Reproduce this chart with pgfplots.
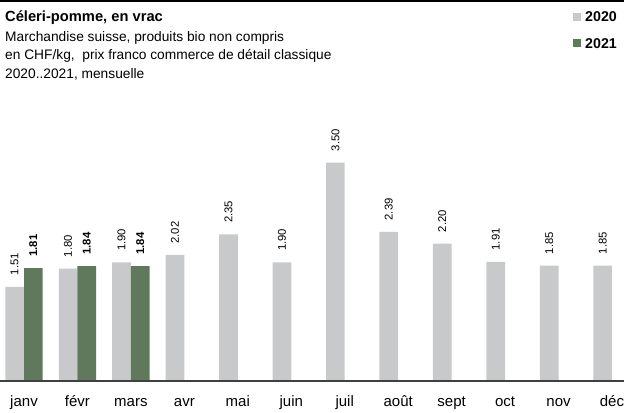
\documentclass[border=0pt]{standalone}
\usepackage{pgfplots}
\pgfplotsset{compat=1.18}
\usepackage{fontspec}
\setmainfont{Liberation Sans}
\definecolor{g20}{RGB}{200,201,203}
\definecolor{g21}{RGB}{96,121,92}
\definecolor{base}{RGB}{64,64,64}
\begin{document}
\begin{tikzpicture}[x=1bp,y=1bp]
\useasboundingbox (0,0) rectangle (624,412);
\draw[line width=1.8bp] (0,410.6) -- (624,410.6);
\node[anchor=base west, inner sep=0, font=\fontsize{14.7bp}{17bp}\selectfont\bfseries] at (5,390) {Céleri-pomme, en vrac};
\node[anchor=base west, inner sep=0, font=\fontsize{13.75bp}{16bp}\selectfont] at (5,371) {Marchandise suisse, produits bio non compris};
\node[anchor=base west, inner sep=0, font=\fontsize{13.75bp}{16bp}\selectfont] at (5,352.5) {en CHF/kg,\ \ prix franco commerce de détail classique};
\node[anchor=base west, inner sep=0, font=\fontsize{13.75bp}{16bp}\selectfont] at (5,334) {2020..2021, mensuelle};
\fill[g20] (572.7,391) rectangle (580.7,399);
\node[anchor=base west, inner sep=0, font=\fontsize{14.2bp}{16bp}\selectfont\bfseries] at (585,390) {2020};
\fill[g21] (572.7,365) rectangle (580.7,373);
\node[anchor=base west, inner sep=0, font=\fontsize{14.2bp}{16bp}\selectfont\bfseries] at (585,364) {2021};
\begin{axis}[
  at={(0bp,31bp)}, anchor=south west, scale only axis,
  width=624bp, height=249.6bp,
  xmin=-0.449, xmax=11.225, ymin=0, ymax=4,
  axis line style={draw=none},
  xtick={0,...,11}, xtick pos=lower, ytick=\empty,
  xticklabels={janv,févr,mars,avr,mai,juin,juil,août,sept,oct,nov,déc},
  major tick length=0,
  xticklabel style={font=\fontsize{15bp}{17bp}\selectfont, anchor=base, inner sep=0pt},
  xticklabel shift=0pt,
  x tick label style={yshift=-25bp},
  ybar=0pt, bar width=18.7bp,
  /pgf/number format/assume math mode=true,
  nodes near coords={\pgfmathprintnumber[fixed,fixed zerofill,precision=2]{\pgfplotspointmeta}},
  every node near coord/.append style={rotate=90, anchor=west, inner sep=1bp, outer sep=0bp, xshift=10.5bp, font=\fontsize{11.3bp}{13bp}\selectfont, text=black},
  clip=false,
]
\addplot[fill=g20, draw=none] coordinates {
(0,1.51) (1,1.80) (2,1.90) (3,2.02) (4,2.35) (5,1.90) (6,3.50) (7,2.39) (8,2.20) (9,1.91) (10,1.85) (11,1.85)};
\addplot[fill=g21, draw=none, nodes near coords style={font=\fontsize{11.3bp}{13bp}\selectfont\bfseries}] coordinates {
(0,1.81) (1,1.84) (2,1.84)};
\draw[base, line width=1.2bp] (axis cs:-0.449,0) -- (axis cs:11.225,0);
\end{axis}
\end{tikzpicture}
\end{document}
